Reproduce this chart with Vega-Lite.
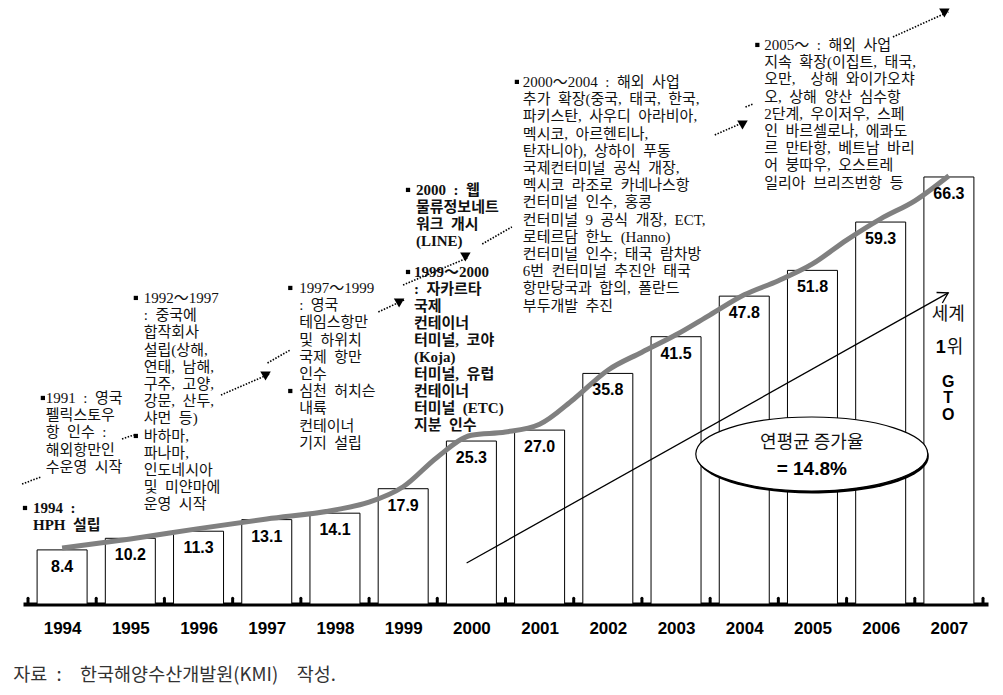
{
  "$schema": "https://vega.github.io/schema/vega-lite/v6.json",
  "autosize": "none",
  "width": 965,
  "height": 599,
  "padding": {"left": 23, "top": 5, "right": 15, "bottom": 91},
  "background": "white",
  "config": {"view": {"stroke": null}},
  "datasets": {
    "bars": [
      {"year": 1994, "value": 8.4}, {"year": 1995, "value": 10.2}, {"year": 1996, "value": 11.3},
      {"year": 1997, "value": 13.1}, {"year": 1998, "value": 14.1}, {"year": 1999, "value": 17.9},
      {"year": 2000, "value": 25.3}, {"year": 2001, "value": 27.0}, {"year": 2002, "value": 35.8},
      {"year": 2003, "value": 41.5}, {"year": 2004, "value": 47.8}, {"year": 2005, "value": 51.8},
      {"year": 2006, "value": 59.3}, {"year": 2007, "value": 66.3}
    ],
    "curve": [
      {"x": 1994, "v": 8.7}, {"x": 1995, "v": 10.1}, {"x": 1996, "v": 11.7}, {"x": 1997, "v": 13.2},
      {"x": 1998, "v": 14.6}, {"x": 1998.5, "v": 15.8}, {"x": 1999, "v": 18.2}, {"x": 1999.5, "v": 22.8},
      {"x": 2000, "v": 26.2}, {"x": 2000.5, "v": 26.7}, {"x": 2001, "v": 27.9}, {"x": 2001.5, "v": 31.8},
      {"x": 2002, "v": 36.3}, {"x": 2002.5, "v": 39.1}, {"x": 2003, "v": 41.8}, {"x": 2003.5, "v": 44.9},
      {"x": 2004, "v": 48.0}, {"x": 2004.5, "v": 50.2}, {"x": 2005, "v": 52.8}, {"x": 2005.5, "v": 56.5},
      {"x": 2006, "v": 59.8}, {"x": 2006.5, "v": 62.6}, {"x": 2007, "v": 66.5}
    ],
    "ticks": [
      {"x": 1993.5}, {"x": 1994.5}, {"x": 1995.5}, {"x": 1996.5}, {"x": 1997.5}, {"x": 1998.5},
      {"x": 1999.5}, {"x": 2000.5}, {"x": 2001.5}, {"x": 2002.5}, {"x": 2003.5}, {"x": 2004.5},
      {"x": 2005.5}, {"x": 2006.5}, {"x": 2007.5}
    ],
    "dots": [
      {"x": 1996.329, "y": 32.45, "x2": 1997.040, "y2": 35.71},
      {"x": 1998.636, "y": 45.34, "x2": 1999.013, "y2": 47.20},
      {"x": 1998.998, "y": 49.53, "x2": 1999.941, "y2": 53.73},
      {"x": 2003.568, "y": 72.83, "x2": 2004.003, "y2": 74.84},
      {"x": 2006.180, "y": 88.04, "x2": 2006.992, "y2": 91.93},
      {"x": 1993.413, "y": 18.63, "x2": 1993.689, "y2": 19.72},
      {"x": 1994.878, "y": 25.62, "x2": 1995.052, "y2": 26.24},
      {"x": 1997.011, "y": 37.42, "x2": 1997.345, "y2": 39.44},
      {"x": 2000.159, "y": 55.90, "x2": 2000.594, "y2": 58.54},
      {"x": 2004.018, "y": 77.17, "x2": 2004.134, "y2": 77.64}
    ],
    "heads": [
      {"x": 1996.982, "y": 35.40}, {"x": 1998.940, "y": 46.74}, {"x": 1999.912, "y": 53.88},
      {"x": 2003.974, "y": 74.38}, {"x": 2006.934, "y": 91.77}
    ],
    "bullets": [
      {"x": 1993.456, "y": 14.91}, {"x": 1993.718, "y": 31.99}, {"x": 1995.081, "y": 47.52},
      {"x": 1995.081, "y": 26.09}, {"x": 1997.345, "y": 49.07}, {"x": 1997.345, "y": 33.07},
      {"x": 1999.071, "y": 51.55}, {"x": 1999.071, "y": 64.29}, {"x": 2000.667, "y": 81.06},
      {"x": 2004.192, "y": 86.80}
    ],
    "trend": [{"x": 1999.93, "y": 6.37, "x2": 2006.99, "y2": 48.3}],
    "ellipse": [{"x": 2004.99, "y": 23.29}],
    "notes": [
      {"x": 1993.573, "y": 14.13, "w": "bold", "t": "1994\u2002:\nHPH\u2002설립"},
      {"x": 1993.761, "y": 31.21, "w": "normal", "t": "1991\u2002:\u2002영국\n펠릭스토우\n항\u2002인수\u2002:\n해외항만인\n수운영\u2002시작"},
      {"x": 1995.197, "y": 46.74, "w": "normal", "t": "1992～1997\n:\u2002중국에\n합작회사\n설립(상해,\n연태,\u2002남해,\n구주,\u2002고양,\n강문,\u2002산두,\n샤먼\u2002등)\n바하마,\n파나마,\n인도네시아\n및\u2002미얀마에\n운영\u2002시작"},
      {"x": 1997.475, "y": 48.29, "w": "normal", "t": "1997～1999\n:\u2002영국\n테임스항만\n및\u2002하위치\n국제\u2002항만\n인수\n심천\u2002허치슨\n내륙\n컨테이너\n기지\u2002설립"},
      {"x": 1999.158, "y": 50.78, "w": "bold", "t": "1999～2000\n:\u2002자카르타\n국제\n컨테이너\n터미널,\u2002코야\n(Koja)\n터미널,\u2002유럽\n컨테이너\n터미널\u2002(ETC)\n지분\u2002인수"},
      {"x": 1999.187, "y": 63.51, "w": "bold", "t": "2000\u2002:\u2002웹\n물류정보네트\n워크\u2002개시\n(LINE)"},
      {"x": 2000.754, "y": 80.28, "w": "normal", "t": "2000～2004\u2002:\u2002해외\u2002사업\n추가\u2002확장(중국,\u2002태국,\u2002한국,\n파키스탄,\u2002사우디\u2002아라비아,\n멕시코,\u2002아르헨티나,\n탄자니아),\u2002상하이\u2002푸동\n국제컨터미널\u2002공식\u2002개장,\n멕시코\u2002라조로\u2002카네나스항\n컨터미널\u2002인수,\u2002홍콩\n컨터미널\u20029\u2002공식\u2002개장,\u2002ECT,\n로테르담\u2002한노\u2002(Hanno)\n컨터미널\u2002인수;\u2002태국\u2002람차방\n6번\u2002컨터미널\u2002추진안\u2002태국\n항만당국과\u2002합의,\u2002폴란드\n부두개발\u2002추진"},
      {"x": 2004.293, "y": 86.02, "w": "normal", "t": "2005～\u2002:\u2002해외\u2002사업\n지속\u2002확장(이집트,\u2002태국,\n오만,\u2002\u2002상해\u2002와이가오챠\n오,\u2002상해\u2002양산\u2002심수항\n2단계,\u2002우이저우,\u2002스페\n인\u2002바르셀로나,\u2002에콰도\n르\u2002만타항,\u2002베트남\u2002바리\n어\u2002붕따우,\u2002오스트레\n일리아\u2002브리즈번항\u2002등"}
    ],
    "sans": [
      {"x": 2004.99, "y": 25.0, "t": "연평균 증가율", "s": 18},
      {"x": 2006.99, "y": 44.88, "t": "세계", "s": 18},
      {"x": 2007.09, "y": 39.75, "t": "위", "s": 18},
      {"x": 1993.282, "y": -11.02, "t": "자료\u2002:\u2002\u2002한국해양수산개발원(KMI)\u2002\u2002작성.", "s": 18.5}
    ],
    "boldsans": [
      {"x": 2004.99, "y": 20.96, "t": "= 14.8%", "s": 19},
      {"x": 2006.88, "y": 39.75, "t": "1", "s": 18},
      {"x": 2006.99, "y": 34.47, "t": "G\nT\nO", "s": 16}
    ]
  },
  "layer": [
    {
      "data": {"name": "ticks"},
      "mark": {"type": "rule", "strokeWidth": 3, "color": "black", "strokeCap": "round"},
      "encoding": {
        "x": {"field": "x", "type": "quantitative", "scale": {"domain": [1993.5, 2007.5], "nice": false, "zero": false},
              "axis": {"values": [1994, 1995, 1996, 1997, 1998, 1999, 2000, 2001, 2002, 2003, 2004, 2005, 2006, 2007],
                       "format": "d", "ticks": false, "grid": false, "domainWidth": 4, "domainColor": "black",
                       "labelFontSize": 17, "labelFont": "Liberation Sans", "labelFontWeight": "bold", "labelColor": "black",
                       "labelBaseline": "middle", "labelPadding": 24, "labelFlush": false, "title": null}},
        "y": {"datum": 0, "type": "quantitative", "scale": {"domain": [0, 93], "nice": false, "zero": true}, "axis": null},
        "y2": {"datum": 0.9}
      }
    },
    {
      "data": {"name": "bars"},
      "mark": {"type": "bar", "width": 50, "fill": "white", "stroke": "black", "strokeWidth": 1},
      "encoding": {
        "x": {"field": "year", "type": "quantitative"},
        "y": {"field": "value", "type": "quantitative"}
      }
    },
    {
      "data": {"name": "curve"},
      "mark": {"type": "line", "interpolate": "monotone", "color": "#808080", "strokeWidth": 5},
      "encoding": {
        "x": {"field": "x", "type": "quantitative"},
        "y": {"field": "v", "type": "quantitative"}
      }
    },
    {
      "data": {"name": "bars"},
      "mark": {"type": "text", "font": "Liberation Sans", "fontWeight": "bold", "fontSize": 16, "baseline": "middle", "dy": 17, "color": "black"},
      "encoding": {
        "x": {"field": "year", "type": "quantitative"},
        "y": {"field": "value", "type": "quantitative"},
        "text": {"field": "value", "type": "quantitative", "format": ".1f"}
      }
    },
    {
      "data": {"name": "trend"},
      "mark": {"type": "rule", "color": "black", "strokeWidth": 1.3},
      "encoding": {
        "x": {"field": "x", "type": "quantitative"},
        "y": {"field": "y", "type": "quantitative"},
        "x2": {"field": "x2"},
        "y2": {"field": "y2"}
      }
    },
    {
      "data": {"name": "trend"},
      "mark": {"type": "point", "shape": "M -1 -0.6 L 0 0 L -1 0.6", "filled": false, "color": "black", "strokeWidth": 1.3, "size": 400, "angle": -29, "opacity": 1},
      "encoding": {
        "x": {"field": "x2", "type": "quantitative"},
        "y": {"field": "y2", "type": "quantitative"}
      }
    },
    {
      "data": {"name": "dots"},
      "mark": {"type": "rule", "color": "black", "strokeWidth": 1.6, "strokeDash": [1.5, 1.5]},
      "encoding": {
        "x": {"field": "x", "type": "quantitative"},
        "y": {"field": "y", "type": "quantitative"},
        "x2": {"field": "x2"},
        "y2": {"field": "y2"}
      }
    },
    {
      "data": {"name": "heads"},
      "mark": {"type": "point", "shape": "triangle-down", "filled": true, "color": "black", "size": 110, "opacity": 1},
      "encoding": {
        "x": {"field": "x", "type": "quantitative"},
        "y": {"field": "y", "type": "quantitative"}
      }
    },
    {
      "data": {"name": "bullets"},
      "mark": {"type": "point", "shape": "square", "filled": true, "color": "black", "size": 18, "opacity": 1},
      "encoding": {
        "x": {"field": "x", "type": "quantitative"},
        "y": {"field": "y", "type": "quantitative"}
      }
    },
    {
      "data": {"name": "ellipse"},
      "mark": {"type": "point", "shape": "M -1 0 C -1 -0.1762 -0.5523 -0.319 0 -0.319 C 0.5523 -0.319 1 -0.1762 1 0 C 1 0.1762 0.5523 0.319 0 0.319 C -0.5523 0.319 -1 0.1762 -1 0 Z", "filled": true, "fill": "black", "size": 53824, "yOffset": 2.5, "xOffset": 1, "opacity": 1},
      "encoding": {
        "x": {"field": "x", "type": "quantitative"},
        "y": {"field": "y", "type": "quantitative"}
      }
    },
    {
      "data": {"name": "ellipse"},
      "mark": {"type": "point", "shape": "M -1 0 C -1 -0.1762 -0.5523 -0.319 0 -0.319 C 0.5523 -0.319 1 -0.1762 1 0 C 1 0.1762 0.5523 0.319 0 0.319 C -0.5523 0.319 -1 0.1762 -1 0 Z", "filled": true, "fill": "white", "stroke": "black", "strokeWidth": 1.2, "size": 53824, "opacity": 1},
      "encoding": {
        "x": {"field": "x", "type": "quantitative"},
        "y": {"field": "y", "type": "quantitative"}
      }
    },
    {
      "data": {"name": "notes"},
      "transform": [{"filter": "datum.w === 'normal'"}],
      "mark": {"type": "text", "font": "Liberation Serif, Noto Sans CJK KR", "fontSize": 15, "lineHeight": 17.2, "lineBreak": "\n", "align": "left", "baseline": "alphabetic", "color": "#111111"},
      "encoding": {
        "x": {"field": "x", "type": "quantitative"},
        "y": {"field": "y", "type": "quantitative"},
        "text": {"field": "t"}
      }
    },
    {
      "data": {"name": "notes"},
      "transform": [{"filter": "datum.w === 'bold'"}],
      "mark": {"type": "text", "font": "Liberation Serif, Noto Sans CJK KR", "fontWeight": "bold", "fontSize": 15, "lineHeight": 17.0, "lineBreak": "\n", "align": "left", "baseline": "alphabetic", "color": "#111111"},
      "encoding": {
        "x": {"field": "x", "type": "quantitative"},
        "y": {"field": "y", "type": "quantitative"},
        "text": {"field": "t"}
      }
    },
    {
      "data": {"name": "sans"},
      "transform": [{"filter": "datum.s === 18"}],
      "mark": {"type": "text", "font": "Noto Sans CJK KR", "fontSize": 18, "baseline": "middle", "align": "center", "color": "#111111"},
      "encoding": {
        "x": {"field": "x", "type": "quantitative"},
        "y": {"field": "y", "type": "quantitative"},
        "text": {"field": "t"}
      }
    },
    {
      "data": {"name": "sans"},
      "transform": [{"filter": "datum.s === 18.5"}],
      "mark": {"type": "text", "font": "Noto Sans CJK KR", "fontSize": 18.5, "baseline": "middle", "align": "left", "color": "#333333"},
      "encoding": {
        "x": {"field": "x", "type": "quantitative"},
        "y": {"field": "y", "type": "quantitative"},
        "text": {"field": "t"}
      }
    },
    {
      "data": {"name": "boldsans"},
      "mark": {"type": "text", "font": "Liberation Sans", "fontWeight": "bold", "baseline": "middle", "align": "center", "color": "black", "lineBreak": "\n", "lineHeight": 16.5},
      "encoding": {
        "x": {"field": "x", "type": "quantitative"},
        "y": {"field": "y", "type": "quantitative"},
        "text": {"field": "t"},
        "size": {"field": "s", "type": "quantitative", "scale": null, "legend": null}
      }
    }
  ]
}
